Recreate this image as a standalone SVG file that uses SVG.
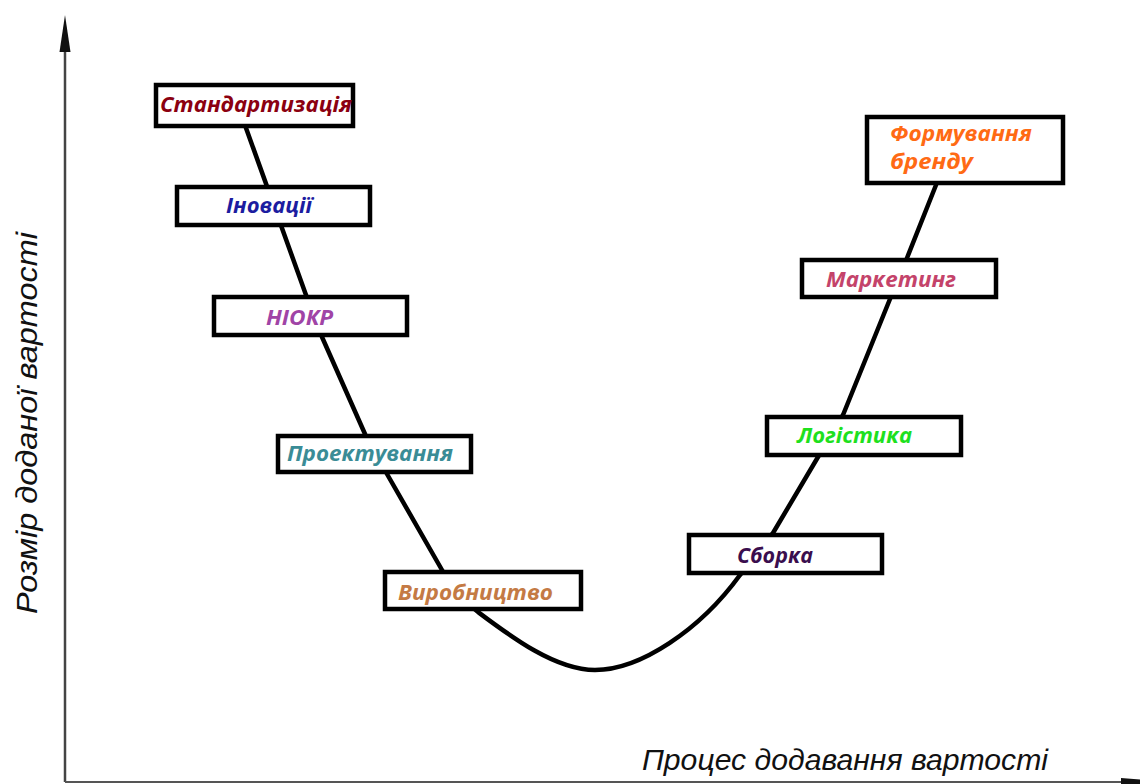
<svg xmlns="http://www.w3.org/2000/svg" width="1140" height="784" viewBox="0 0 1140 784">
<style>
.box{fill:#fff;stroke:#000;stroke-width:4.5}
.lbl{font-family:"Open Sans","Noto Sans","Liberation Sans",sans-serif;font-weight:bold;font-style:italic;font-size:20.5px}
.axl{font-family:"Liberation Sans",Arial,sans-serif;font-style:italic;font-size:29px;fill:#111}
.curve{fill:none;stroke:#000;stroke-width:4.5;stroke-linejoin:round;stroke-linecap:round}
</style>
<rect width="1140" height="784" fill="#fff"/>
<g id="axes">
<line x1="65" y1="50" x2="65" y2="782" stroke="#444" stroke-width="2.5"/>
<polygon points="65,15 70.5,52 59.5,52" fill="#111"/>
<line x1="65" y1="782" x2="1124" y2="782" stroke="#555" stroke-width="2"/>
<polygon points="1121,778 1165,781.5 1121,786" fill="#111"/>
<text class="axl" x="642" y="770" textLength="406" lengthAdjust="spacingAndGlyphs">Процес додавання вартості</text>
<text class="axl" transform="translate(37,614) rotate(-90)" textLength="382" lengthAdjust="spacingAndGlyphs">Розмір доданої вартості</text>
</g>
<g id="connectors">
<path class="curve" d="M246,128 L306,295 L322,337 L365,434 L387,474 L442,570 C452,588 462,600 478,612 C510,636 555,670 595,670 C640,670 700,630 740,575 L773,533 L818,457 L843,415 L890,299 L907,258 L936,185"/>
</g>
<g id="n1"><rect class="box" x="156" y="85" width="197" height="41"/><text class="lbl" x="160" y="112" fill="#8B0010" textLength="192" lengthAdjust="spacingAndGlyphs">Стандартизація</text></g>
<g id="n2"><rect class="box" x="177" y="187" width="193" height="38"/><text class="lbl" x="226" y="213" fill="#1C1CA0" textLength="86" lengthAdjust="spacingAndGlyphs">Іновації</text></g>
<g id="n3"><rect class="box" x="214" y="297" width="193" height="38"/><text class="lbl" x="266" y="325" fill="#A044A6" textLength="67" lengthAdjust="spacingAndGlyphs">НІОКР</text></g>
<g id="n4"><rect class="box" x="278" y="436" width="193" height="36"/><text class="lbl" x="287" y="461" fill="#3A8C96" textLength="166" lengthAdjust="spacingAndGlyphs">Проектування</text></g>
<g id="n5"><rect class="box" x="385" y="572" width="196" height="37"/><text class="lbl" x="398" y="600" fill="#C47A44" textLength="155" lengthAdjust="spacingAndGlyphs">Виробництво</text></g>
<g id="n6"><rect class="box" x="689" y="535" width="193" height="38"/><text class="lbl" x="737" y="563" fill="#3A0E4E" textLength="76" lengthAdjust="spacingAndGlyphs">Сборка</text></g>
<g id="n7"><rect class="box" x="767" y="417" width="194" height="38"/><text class="lbl" x="797" y="443" fill="#1EE01E" textLength="115" lengthAdjust="spacingAndGlyphs">Логістика</text></g>
<g id="n8"><rect class="box" x="802" y="260" width="194" height="37"/><text class="lbl" x="826" y="287" fill="#C4436A" textLength="130" lengthAdjust="spacingAndGlyphs">Маркетинг</text></g>
<g id="n9"><rect class="box" x="867" y="117" width="196" height="66"/><text class="lbl" x="890" y="141" fill="#FF6A14" textLength="142" lengthAdjust="spacingAndGlyphs">Формування</text><text class="lbl" x="890" y="169" fill="#FF6A14" textLength="83" lengthAdjust="spacingAndGlyphs">бренду</text></g>
</svg>
